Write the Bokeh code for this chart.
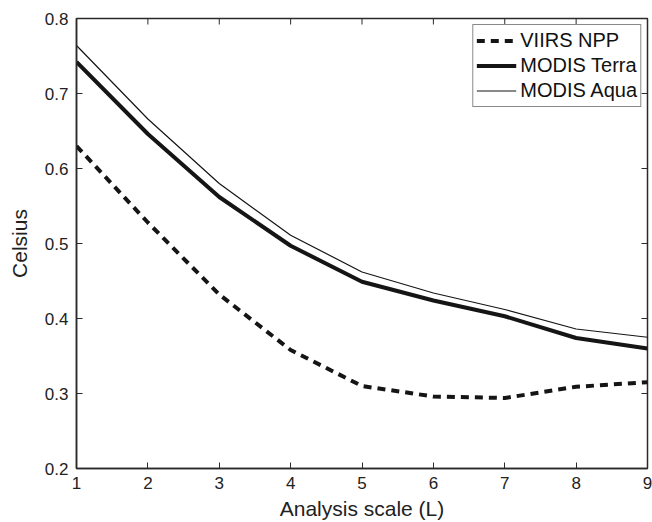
import math
from bokeh.plotting import figure
from bokeh.models import Range1d, FixedTicker, Legend, LegendItem
from bokeh.embed import file_html
from bokeh.resources import INLINE

scale = [1, 2, 3, 4, 5, 6, 7, 8, 9]
viirs_npp = [0.630, 0.528, 0.432, 0.358, 0.310, 0.296, 0.294, 0.309, 0.315]
modis_terra = [0.742, 0.646, 0.562, 0.497, 0.449, 0.424, 0.403, 0.374, 0.360]
modis_aqua = [0.764, 0.666, 0.580, 0.511, 0.462, 0.434, 0.412, 0.386, 0.375]
x_ticks = [1, 2, 3, 4, 5, 6, 7, 8, 9]
y_ticks = [0.2, 0.3, 0.4, 0.5, 0.6, 0.7, 0.8]
x_lim = (1, 9)
y_lim = (0.2, 0.8)

FONT = "Liberation Sans"
AX = "#2a2a2a"
INK = "#151515"

p = figure(width=652, height=522, output_backend="svg", toolbar_location=None,
           x_range=Range1d(*x_lim), y_range=Range1d(*y_lim),
           min_border_left=76, min_border_right=5, min_border_top=18, min_border_bottom=54)
p.xgrid.visible = False
p.ygrid.visible = False
p.outline_line_color = AX
p.outline_line_width = 1.5
p.background_fill_color = "white"
p.border_fill_color = "white"

# inward ticks on the top and right frame edges (mirrored from the axes' tick lists)
p.ray(x=x_ticks, y=[y_lim[1]] * len(x_ticks), length=6, length_units="screen",
      angle=-math.pi / 2, line_color=AX, line_width=1)
p.ray(x=[x_lim[1]] * len(y_ticks), y=y_ticks, length=6, length_units="screen",
      angle=math.pi, line_color=AX, line_width=1)

r_v = p.line(scale, viirs_npp, line_color=INK, line_width=4, line_dash="8 6")
r_t = p.line(scale, modis_terra, line_color=INK, line_width=4)
r_a = p.line(scale, modis_aqua, line_color=INK, line_width=1.2)

def style(ax, ticks):
    ax.ticker = FixedTicker(ticks=ticks)
    ax.axis_line_color = AX
    ax.axis_line_width = 1.5
    ax.major_tick_in = 6
    ax.major_tick_out = 0
    ax.major_tick_line_color = AX
    ax.minor_tick_line_color = None
    ax.major_label_text_font = FONT
    ax.major_label_text_font_size = "17px"
    ax.major_label_text_color = "#222222"
    ax.axis_label_text_font = FONT
    ax.axis_label_text_font_size = "21px"
    ax.axis_label_text_font_style = "normal"
    ax.axis_label_text_color = "#222222"

style(p.xaxis[0], x_ticks)
style(p.yaxis[0], y_ticks)
p.xaxis[0].axis_label = "Analysis scale (L)"
p.yaxis[0].axis_label = "Celsius"
p.xaxis[0].major_label_standoff = 8
p.yaxis[0].major_label_standoff = 8
p.xaxis[0].axis_label_standoff = 5
p.yaxis[0].axis_label_standoff = 11

legend = Legend(items=[
    LegendItem(label="VIIRS NPP", renderers=[r_v]),
    LegendItem(label="MODIS Terra", renderers=[r_t]),
    LegendItem(label="MODIS Aqua", renderers=[r_a]),
], location="top_right")
legend.label_text_font = FONT
legend.label_text_font_size = "20px"
legend.label_text_color = "#111111"
legend.border_line_color = INK
legend.border_line_width = 1.2
legend.background_fill_alpha = 1
legend.glyph_width = 40
legend.glyph_height = 25
legend.label_height = 25
legend.label_standoff = 4
legend.spacing = 0
legend.padding = 3
legend.margin = 6
p.add_layout(legend, "center")

open("out.html", "w").write(file_html(p, INLINE))
